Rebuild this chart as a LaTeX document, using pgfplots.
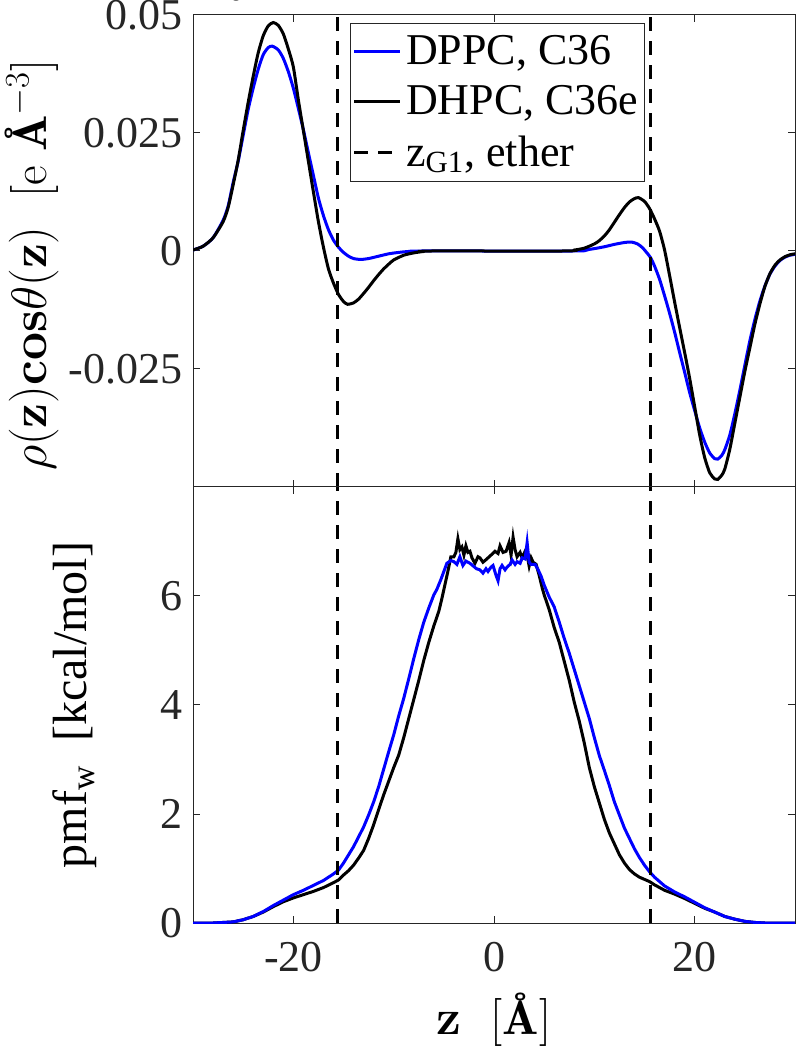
\documentclass[border=0pt]{standalone}
\usepackage[no-math]{fontspec}
\setmainfont{Liberation Serif}
\usepackage{pgfplots}
\pgfplotsset{compat=1.18}
\definecolor{axgray}{gray}{0.15}
\newcommand{\lm}{\fontfamily{lmr}\selectfont}
\begin{document}
\begin{tikzpicture}
\pgfplotsset{
 base/.style={
  scale only axis, width=301pt, xmin=-30, xmax=30,
  tick align=inside, major tick length=3.3pt,
  axis line style={draw=axgray, line width=0.5pt},
  every tick/.style={draw=axgray, line width=0.5pt},
  xtick={-20,0,20},
  yticklabel style={font=\fontsize{22}{26}\selectfont, text=axgray, xshift=-1.7pt},
  xticklabel style={font=\fontsize{22}{26}\selectfont, text=axgray, yshift=-6pt},
  label style={font=\fontsize{24}{29}\selectfont, text=black},
 },
 vline/.style={black, line width=1.8pt, dash pattern=on 7pt off 5pt},
}
\begin{axis}[base, name=top, height=236pt, ymin=-0.05, ymax=0.05,
 ytick={-0.025,0,0.025,0.05}, yticklabels={-0.025,0,0.025,0.05}, xticklabels={},
 ylabel={\lm$\rho(\mathbf{z})\mathbf{cos}\theta(\mathbf{z})$\ \ [e {\bfseries\AA}$^{-3}$]},
 ylabel style={at={(axis description cs:-0.2674,0.47)}, anchor=center},
 legend style={at={(rel axis cs:0.2608,0.983)}, anchor=north west, draw=axgray, line width=0.5pt, fill=white, font=\fontsize{22}{26}\selectfont, inner xsep=1pt, inner ysep=4pt, row sep=5pt},
 legend cell align=left,
 legend image code/.code={\draw[#1] (0pt,0pt) -- (23pt,0pt);},
]
\addplot[blue, line width=1.5pt, smooth, tension=0.4] coordinates {
(-30,0.0002) (-29,0.001) (-28,0.0028) (-27,0.0065) (-26.5,0.0095) (-26,0.0145) (-25.5,0.019) (-25,0.0245) (-24.5,0.030) (-24,0.0345) (-23.5,0.0385) (-23,0.0416) (-22.5,0.0431) (-22.1,0.0434) (-21.5,0.0426) (-21,0.0408) (-20.5,0.038) (-20,0.0345) (-19.5,0.0302) (-19,0.0257) (-18.5,0.0208) (-18,0.016) (-17.5,0.0112) (-17,0.0075) (-16.5,0.0045) (-16,0.0023) (-15.5,0.0008) (-15,-0.0003) (-14.5,-0.0011) (-14,-0.0016) (-13.3,-0.0018) (-12.5,-0.0016) (-11.5,-0.0011) (-10.5,-0.0006) (-9.5,-0.0003) (-8.5,-0.0001) (-7,0) (8,0) (9,0.0002) (10,0.0005) (11,0.0009) (12,0.0014) (13,0.0018) (13.7,0.0019) (14.3,0.0015) (14.8,0.0007) (15.2,-0.0003) (15.6,-0.0014) (16,-0.0032) (16.5,-0.006) (17,-0.0095) (17.5,-0.0132) (18,-0.0172) (18.5,-0.0215) (19,-0.0257) (19.5,-0.03) (20,-0.0338) (20.5,-0.0375) (21,-0.0405) (21.5,-0.0428) (22,-0.044) (22.3,-0.0441) (22.7,-0.0433) (23,-0.0421) (23.5,-0.039) (24,-0.0345) (24.5,-0.0295) (25,-0.0242) (25.5,-0.019) (26,-0.0145) (26.5,-0.0106) (27,-0.0074) (27.5,-0.0049) (28,-0.0032) (28.5,-0.002) (29,-0.0013) (29.5,-0.0009) (30,-0.0007)
};
\addlegendentry{DPPC, C36}
\addplot[black, line width=1.5pt, smooth, tension=0.4] coordinates {
(-30,0.0002) (-29,0.001) (-28,0.0028) (-27,0.0062) (-26.5,0.0092) (-26,0.014) (-25.5,0.0192) (-25,0.0255) (-24.5,0.0315) (-24,0.037) (-23.5,0.042) (-23,0.0456) (-22.5,0.0477) (-22,0.0484) (-21.5,0.0478) (-21,0.046) (-20.5,0.0428) (-20,0.039) (-19.5,0.032) (-19,0.0255) (-18.5,0.019) (-18,0.0125) (-17.5,0.0062) (-17,0.0008) (-16.5,-0.0038) (-16,-0.0068) (-15.5,-0.0092) (-15,-0.0107) (-14.6,-0.0113) (-14,-0.011) (-13.5,-0.0102) (-13,-0.009) (-12.5,-0.0077) (-12,-0.0063) (-11.5,-0.005) (-11,-0.0038) (-10.5,-0.0028) (-10,-0.0019) (-9,-0.0009) (-8,-0.0004) (-7,-0.0001) (-6,0) (7,0) (8,0.0002) (9,0.0006) (10,0.0015) (10.5,0.0022) (11,0.0032) (11.5,0.0045) (12,0.0061) (12.5,0.0077) (13,0.0092) (13.5,0.0104) (14,0.0111) (14.4,0.0113) (15,0.0105) (15.5,0.009) (16,0.0068) (16.5,0.0042) (17,0.0002) (17.5,-0.0052) (18,-0.0108) (18.5,-0.0162) (19,-0.0215) (19.5,-0.027) (20,-0.033) (20.5,-0.039) (21,-0.0438) (21.5,-0.047) (22,-0.0483) (22.3,-0.0484) (22.7,-0.0475) (23,-0.0462) (23.5,-0.042) (24,-0.0365) (24.5,-0.031) (25,-0.0255) (25.5,-0.0205) (26,-0.0155) (26.5,-0.0112) (27,-0.0075) (27.5,-0.0048) (28,-0.003) (28.5,-0.0019) (29,-0.0012) (29.5,-0.0008) (30,-0.0006)
};
\addlegendentry{DHPC, C36e}
\addplot[vline] coordinates {(-15.6,-0.05) (-15.6,0.05)};
\addlegendentry{z\textsubscript{G1}, ether}
\addplot[vline, forget plot] coordinates {(15.6,-0.05) (15.6,0.05)};
\end{axis}
\begin{axis}[base, name=bot, at={(top.south west)}, anchor=north west, height=218pt, ymin=0, ymax=8,
 ytick={0,2,4,6}, yticklabels={0,2,4,6}, xticklabels={-20,0,20},
 xlabel={\lm$\mathbf{z}$\ \ [{\bfseries\AA}]},
 xlabel style={at={(axis description cs:0.5,-0.2225)}, anchor=center},
 ylabel={pmf\textsubscript{w}\ \ [kcal/mol]},
 ylabel style={at={(axis description cs:-0.196,0.5)}, anchor=center},
]
\addplot[black, line width=1.5pt] coordinates {
(-30,0) (-28,0) (-27,0.01) (-26,0.02) (-25,0.06) (-24,0.12) (-23,0.2) (-22,0.3) (-21,0.39) (-20,0.46) (-19,0.52) (-18,0.58) (-17,0.65) (-16,0.74) (-15.5,0.79) (-15,0.88) (-14.5,0.96) (-14,1.06) (-13.5,1.19) (-13,1.33) (-12.5,1.55) (-12,1.8) (-11.5,2.08) (-11,2.35) (-10.5,2.6) (-10,2.85) (-9.5,3.08) (-9,3.4) (-8.5,3.75) (-8,4.1) (-7.5,4.45) (-7,4.82) (-6.5,5.15) (-6,5.45) (-5.5,5.72) (-5.2,5.95) (-4.9,6.2) (-4.6,6.45) (-4.3,6.72) (-4,6.72) (-3.8,6.8) (-3.6,7.05) (-3.4,6.85) (-3.2,6.9) (-3,6.75) (-2.8,6.92) (-2.6,6.8) (-2.4,6.82) (-2.2,6.7) (-1.9,6.6) (-1.6,6.72) (-1.4,6.7) (-1.1,6.62) (-0.9,6.65) (-0.6,6.7) (-0.3,6.75) (0.1,6.82) (0.4,6.78) (0.6,6.92) (0.9,6.8) (1.2,6.82) (1.5,6.98) (1.7,6.75) (1.9,7.08) (2.1,6.85) (2.3,6.72) (2.6,6.8) (2.8,6.7) (3.1,6.82) (3.3,6.75) (3.5,6.55) (3.7,6.7) (3.9,6.62) (4.2,6.58) (4.5,6.38) (4.8,6.15) (5,6.02) (5.5,5.75) (6,5.42) (6.5,5.15) (7,4.8) (7.5,4.45) (8,4.05) (8.5,3.7) (9,3.3) (9.5,2.85) (10,2.5) (10.5,2.2) (11,1.9) (11.5,1.65) (12,1.45) (12.5,1.25) (13,1.1) (13.5,0.98) (14,0.9) (14.5,0.84) (15,0.8) (15.5,0.76) (16,0.7) (17,0.6) (18,0.53) (19,0.45) (20,0.36) (21,0.27) (22,0.2) (23,0.12) (24,0.07) (25,0.03) (26,0.01) (27,0) (30,0)
};
\addplot[blue, line width=1.5pt] coordinates {
(-30,0) (-28,0) (-27,0.01) (-26,0.02) (-25,0.06) (-24,0.12) (-23,0.21) (-22,0.32) (-21,0.42) (-20,0.52) (-19,0.6) (-18,0.69) (-17,0.78) (-16,0.9) (-15.5,0.97) (-15,1.1) (-14.5,1.25) (-14,1.4) (-13.5,1.58) (-13,1.76) (-12.5,1.98) (-12,2.22) (-11.5,2.5) (-11,2.82) (-10.5,3.14) (-10,3.45) (-9.5,3.8) (-9,4.12) (-8.5,4.48) (-8,4.85) (-7.5,5.2) (-7,5.52) (-6.5,5.78) (-6,6.02) (-5.7,6.12) (-5.3,6.3) (-5,6.45) (-4.7,6.6) (-4.3,6.65) (-4,6.63) (-3.7,6.58) (-3.4,6.72) (-3.1,6.56) (-2.8,6.64) (-2.4,6.6) (-2,6.54) (-1.75,6.5) (-1.4,6.48) (-1.1,6.42) (-0.8,6.5) (-0.6,6.45) (-0.3,6.53) (-0.1,6.56) (0.2,6.38) (0.4,6.28) (0.6,6.5) (0.8,6.56) (1.1,6.48) (1.3,6.53) (1.6,6.58) (1.8,6.66) (2.1,6.58) (2.3,6.63) (2.6,6.6) (2.8,6.7) (3.1,6.68) (3.3,6.98) (3.5,6.62) (3.7,6.58) (4.1,6.58) (4.4,6.48) (4.7,6.36) (5,6.2) (5.5,5.98) (6,5.8) (6.5,5.52) (7,5.22) (7.5,4.95) (8,4.65) (8.5,4.35) (9,4.05) (9.5,3.75) (10,3.4) (10.5,3.07) (11,2.8) (11.5,2.52) (12,2.22) (12.5,1.98) (13,1.74) (13.5,1.55) (14,1.36) (14.5,1.2) (15,1.06) (15.5,0.94) (16,0.84) (17,0.68) (18,0.57) (19,0.48) (20,0.38) (21,0.28) (22,0.2) (23,0.12) (24,0.07) (25,0.03) (26,0.01) (27,0) (30,0)
};
\addplot[vline] coordinates {(-15.6,0) (-15.6,8)};
\addplot[vline] coordinates {(15.6,0) (15.6,8)};
\end{axis}
\pgfresetboundingbox
\path[use as bounding box] ([shift={(-96.5pt,7.5pt)}]top.north west) rectangle ([shift={(1.5pt,-63.5pt)}]bot.south east);
\end{tikzpicture}
\end{document}
